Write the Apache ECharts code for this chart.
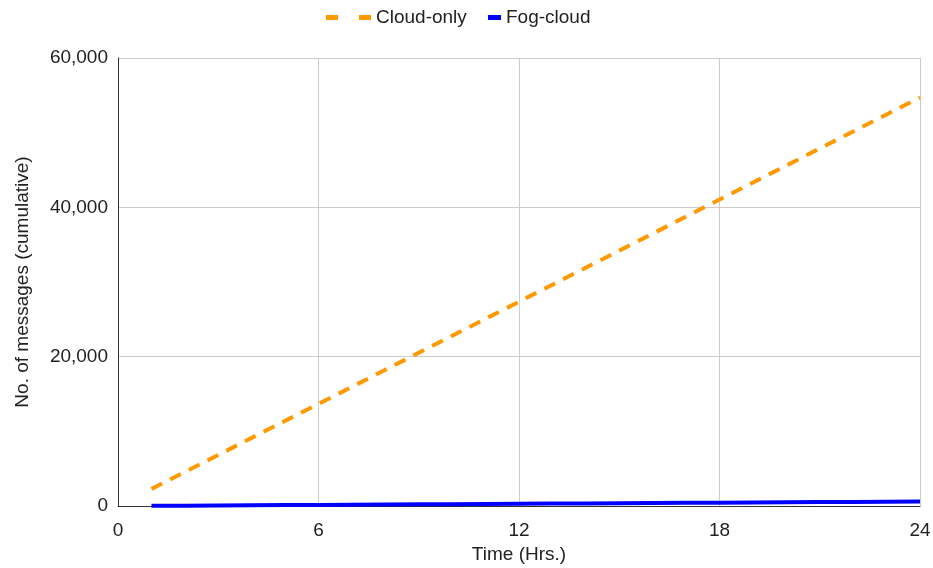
<!DOCTYPE html>
<html>
<head>
<meta charset="utf-8">
<script src="https://cdn.jsdelivr.net/npm/echarts@6/dist/echarts.min.js"></script>
<style>
  html, body { margin: 0; padding: 0; background: #fff; }
  #chart { width: 933px; height: 568px; }
</style>
</head>
<body>
<div id="chart"></div>
<script>
// hours and cumulative message counts
var hours = [1, 2, 3, 4, 5, 6, 7, 8, 9, 10, 11, 12, 13, 14, 15, 16, 17, 18, 19, 20, 21, 22, 23, 24];
var cloudOnly = [2280, 4560, 6840, 9120, 11400, 13680, 15960, 18240, 20520, 22800, 25080, 27360,
  29640, 31920, 34200, 36480, 38760, 41040, 43320, 45600, 47880, 50160, 52440, 54720];
var fogCloud = [25, 50, 75, 100, 125, 150, 175, 200, 225, 250, 275, 300,
  325, 350, 375, 400, 425, 450, 475, 500, 525, 550, 575, 600];
var xTicks = [0, 6, 12, 18, 24];
var yTicks = [0, 20000, 40000, 60000];

function pairs(xs, ys) {
  return xs.map(function (x, i) { return [x, ys[i]]; });
}

var chart = echarts.init(document.getElementById('chart'));
var font = 'Liberation Sans, Arial, sans-serif';
var txt = {fontSize: 19, color: '#222', fontFamily: font};

chart.setOption({
  animation: false,
  textStyle: {fontFamily: font},
  // two legends so each icon gets its own width
  legend: [
    {
      left: 321, top: 3,
      itemWidth: 45, itemHeight: 5,
      textStyle: txt,
      data: [{name: 'Cloud-only', icon: 'path://M0,0h12v5h-12z M33,0h12v5h-12z', itemStyle: {color: '#ff9900'}}]
    },
    {
      left: 483, top: 3,
      itemWidth: 13, itemHeight: 5,
      textStyle: txt,
      data: [{name: 'Fog-cloud', icon: 'rect', itemStyle: {color: '#0000ff'}}]
    }
  ],
  grid: {left: 118, right: 13, top: 58, bottom: 62, outerBoundsMode: 'none', containLabel: false},
  xAxis: {
    type: 'value',
    min: xTicks[0],
    max: xTicks[xTicks.length - 1],
    interval: 6,
    name: 'Time (Hrs.)',
    nameLocation: 'middle',
    nameGap: 38,
    nameTextStyle: txt,
    axisLine: {show: true, lineStyle: {color: '#333', width: 1}},
    axisTick: {show: false},
    axisLabel: Object.assign({margin: 15}, txt),
    splitLine: {show: true, lineStyle: {color: '#ccc'}}
  },
  yAxis: {
    type: 'value',
    min: yTicks[0],
    max: yTicks[yTicks.length - 1],
    interval: 20000,
    name: 'No. of messages (cumulative)',
    nameLocation: 'middle',
    nameGap: 86,
    nameTextStyle: txt,
    axisLine: {show: true, lineStyle: {color: '#333', width: 1}},
    axisTick: {show: false},
    axisLabel: Object.assign({
      margin: 10,
      formatter: function (v) { return v.toLocaleString('en-US'); }
    }, txt),
    splitLine: {show: true, lineStyle: {color: '#ccc'}}
  },
  series: [
    {
      name: 'Cloud-only',
      type: 'line',
      data: pairs(hours, cloudOnly),
      symbol: 'none',
      color: '#ff9900',
      lineStyle: {color: '#ff9900', width: 4, type: [12, 9]}
    },
    {
      name: 'Fog-cloud',
      type: 'line',
      data: pairs(hours, fogCloud),
      symbol: 'none',
      color: '#0000ff',
      lineStyle: {color: '#0000ff', width: 4}
    }
  ]
});
</script>
</body>
</html>
